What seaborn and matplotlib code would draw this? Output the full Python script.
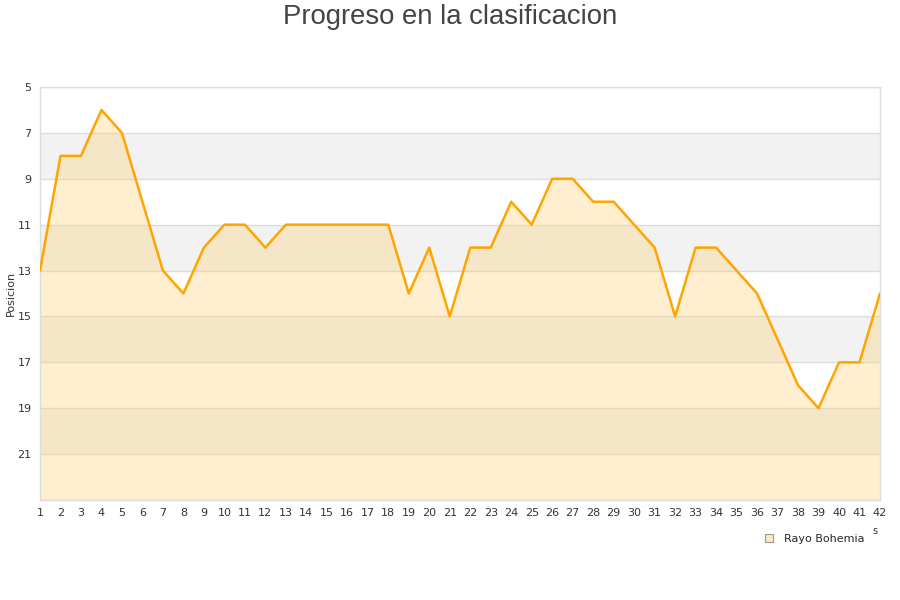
import matplotlib
matplotlib.use("Agg")
import matplotlib.pyplot as plt
import seaborn as sns
import pandas as pd
from matplotlib.patches import Patch

# datos
jornadas = list(range(1, 43))
posiciones = [13, 8, 8, 6, 7, 10, 13, 14, 12, 11, 11, 12, 11, 11, 11, 11, 11, 11,
              14, 12, 15, 12, 12, 10, 11, 9, 9, 10, 10, 11, 12, 15, 12, 12, 13, 14,
              16, 18, 19, 17, 17, 14]
equipo = "Rayo Bohemia"
y_ticks = [5, 7, 9, 11, 13, 15, 17, 19, 21]

df = pd.DataFrame({"Jornada": jornadas, "Posicion": posiciones})

sns.set_style("white")
plt.rcParams['font.family'] = ['DejaVu Sans']

fig = plt.figure(figsize=(9, 6), dpi=100)
ax = fig.add_axes([40 / 900, 1 - 500 / 600, 840 / 900, 413 / 600])

# bandas alternas
for i, lo in enumerate(range(5, 23, 2)):
    if i % 2 == 1:
        ax.axhspan(lo, lo + 2, color="#f2f2f2", zorder=0, lw=0)
for t in y_ticks + [23]:
    ax.axhline(t, color="#dddddd", lw=1, zorder=1)

ax.fill_between(df["Jornada"], df["Posicion"], 23, color="#ffcc66", alpha=0.3, lw=0, zorder=2)
sns.lineplot(data=df, x="Jornada", y="Posicion", ax=ax, color="#ffa500", lw=1.8, zorder=3)

ax.set_xlim(1, 42)
ax.set_ylim(23, 5)
ax.set_xticks(jornadas)
ax.set_yticks(y_ticks)
ax.tick_params(axis="both", labelsize=8, colors="#333333", length=0, pad=6)
ax.set_xlabel("")
ax.set_ylabel("Posicion", fontsize=8, color="#333333")
ax.yaxis.set_label_coords(-24 / 840, 0.5)
for s in ax.spines.values():
    s.set_color("#dddddd")
    s.set_linewidth(1)

fig.suptitle("Progreso en la clasificacion", fontsize=19.8, color="#444444", y=0.993,
             family=["Liberation Sans", "DejaVu Sans"])

fig.legend(handles=[Patch(facecolor="#ffe8bf", edgecolor="#999999", lw=0.8, label=equipo)],
           loc="center", bbox_to_anchor=(815 / 900, 1 - 539 / 600), frameon=False,
           fontsize=8, handlelength=0.7, handleheight=0.7, handletextpad=1.0)
fig.text(875 / 900, 1 - 531 / 600, "s", fontsize=7, color="#333333", ha="center", va="center")

fig.savefig("out.png", dpi=100)
